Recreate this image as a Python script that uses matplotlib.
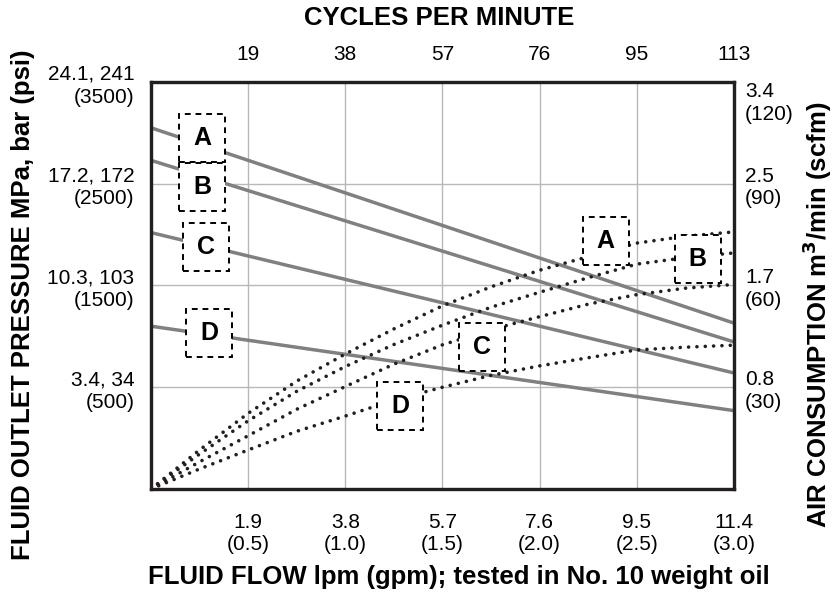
import matplotlib
matplotlib.use("Agg")
import matplotlib.pyplot as plt
from matplotlib.patches import Rectangle

plt.rcParams['font.family'] = ['Liberation Sans', 'DejaVu Sans']

# air consumption curves (dotted), scfm vs fluid flow lpm
flow_lpm = [0, 0.95, 1.9, 2.85, 3.8, 4.75, 5.7, 6.65, 7.6, 8.55, 9.5, 10.45, 11.4]
air_a = [0, 11.5, 22.3, 31.8, 39.8, 47.2, 54.0, 59.6, 64.5, 68.5, 72.5, 74.5, 75.8]
air_b = [0, 10.3, 20.1, 28.8, 36.1, 42.6, 48.3, 53.6, 58.0, 62.3, 66.3, 68.2, 69.6]
air_c = [0, 8.0, 15.7, 23.5, 30.2, 36.8, 42.5, 47.0, 50.8, 54.5, 57.3, 59.2, 60.3]
air_d = [0, 5.9, 11.5, 17.0, 21.5, 26.2, 30.0, 33.5, 36.3, 38.7, 41.0, 41.8, 42.4]

# fluid outlet pressure lines (solid), psi vs fluid flow lpm
pres_flow = [0, 11.4]
pres_a = [3050, 1130]
pres_b = [2730, 945]
pres_c = [2020, 640]
pres_d = [1100, 270]

flow_ticks = [1.9, 3.8, 5.7, 7.6, 9.5, 11.4]
flow_gpm = ['0.5', '1.0', '1.5', '2.0', '2.5', '3.0']
cycles = ['19', '38', '57', '76', '95', '113']
psi_ticks = [500, 1500, 2500, 3500]
psi_labels = ['3.4, 34\n(500)', '10.3, 103\n(1500)', '17.2, 172\n(2500)', '24.1, 241\n(3500)']
scfm_ticks = [30, 60, 90, 120]
scfm_labels = ['0.8\n(30)', '1.7\n(60)', '2.5\n(90)', '3.4\n(120)']

letters = ['A', 'B', 'C', 'D']
# label box centres in axes fraction
left_boxes = [(0.0875, 0.862), (0.0875, 0.742), (0.094, 0.595), (0.10, 0.383)]
right_boxes = [(0.780, 0.609), (0.938, 0.565), (0.568, 0.349), (0.427, 0.204)]

fig = plt.figure(figsize=(8.36, 5.95), dpi=100)
ax = fig.add_axes([0.1806, 0.1782, 0.6974, 0.684])
ax2 = ax.twinx()

ax.set_xlim(0, 11.4)
ax.set_ylim(-500, 3500)
ax2.set_ylim(0, 120)

gray = '#808080'
dark = '#231f20'
for p in [pres_a, pres_b, pres_c, pres_d]:
    ax.plot(pres_flow, p, color=gray, lw=2.5, solid_capstyle='butt')

for a in [air_a, air_b, air_c, air_d]:
    ax2.plot(flow_lpm, a, color=dark, lw=2.6, linestyle=(0, (0.01, 2.3)),
             dash_capstyle='round')

w, h = 0.079, 0.118
for boxes in [left_boxes, right_boxes]:
    for (cx, cy), letter in zip(boxes, letters):
        ax2.add_patch(Rectangle((cx - w / 2, cy - h / 2), w, h, transform=ax2.transAxes,
                                facecolor='white', edgecolor='black', lw=1.4,
                                linestyle=(0, (3, 2.5)), zorder=5))
        ax2.text(cx, cy, letter, transform=ax2.transAxes, ha='center', va='center',
                 fontsize=18, fontweight='bold', zorder=6)

ax.set_xticks(flow_ticks, labels=[f"{f}\n({g})" for f, g in zip(flow_ticks, flow_gpm)])
ax.set_yticks(psi_ticks, labels=psi_labels)
ax2.set_yticks(scfm_ticks, labels=scfm_labels)
ax.grid(color='#b8b8b8', lw=1.0)
ax.set_axisbelow(True)

ax.tick_params(axis='x', length=0, pad=17, labelsize=15)
ax.tick_params(axis='y', length=0, pad=12, labelsize=15)
ax2.tick_params(axis='y', length=0, pad=8, labelsize=15)
for t in ax.get_yticklabels() + ax2.get_yticklabels() + ax.get_xticklabels():
    t.set_linespacing(1.25)
ax2.get_yticklabels()[-1].set_va('top')

top = ax.secondary_xaxis('top')
top.set_xticks(flow_ticks, labels=cycles)
top.tick_params(length=0, pad=13, labelsize=15)
top.spines['top'].set_visible(False)

for a in [ax, ax2]:
    for s in a.spines.values():
        s.set_linewidth(2.3)
        s.set_color(dark)

fig.text(0.525, 0.969, 'CYCLES PER MINUTE', ha='center', va='center',
         fontsize=18.5, fontweight='bold')
fig.text(0.549, 0.03, 'FLUID FLOW lpm (gpm); tested in No. 10 weight oil',
         ha='center', va='center', fontsize=18.5, fontweight='bold')
fig.text(0.028, 0.487, 'FLUID OUTLET PRESSURE MPa, bar (psi)', ha='center', va='center',
         rotation=90, fontsize=18.5, fontweight='bold')
fig.text(0.978, 0.47, 'AIR CONSUMPTION m$^\\mathbf{3}$/min (scfm)', ha='center', va='center',
         rotation=90, fontsize=18.5, fontweight='bold')

fig.savefig('out.png', dpi=100)
